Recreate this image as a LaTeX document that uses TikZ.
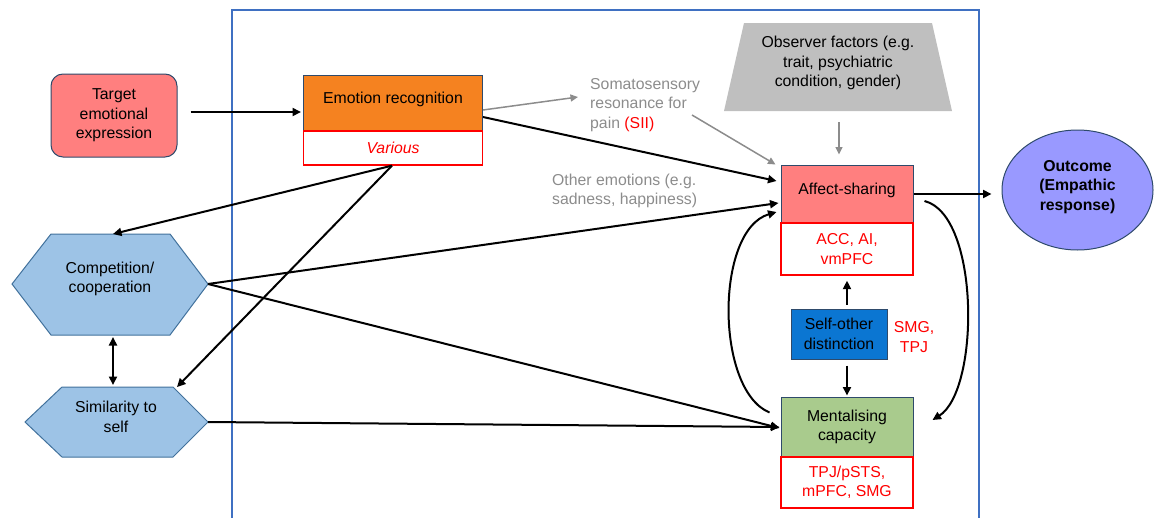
\documentclass[tikz,border=0pt]{standalone}
\usepackage{fontspec}
\setmainfont{Liberation Sans}
\usetikzlibrary{arrows.meta,calc,shapes.geometric}
\definecolor{frameblue}{HTML}{3F70C2}
\definecolor{outl}{HTML}{2E4A6B}
\definecolor{salmon}{HTML}{FF7F7F}
\definecolor{orng}{HTML}{F58220}
\definecolor{gtext}{HTML}{8C8C8C}
\definecolor{gshape}{HTML}{BFBFBF}
\definecolor{purp}{HTML}{9999FF}
\definecolor{selfb}{HTML}{0B76D2}
\definecolor{mgreen}{HTML}{A9CB8D}
\definecolor{hexfill}{HTML}{9DC3E6}
\definecolor{hexline}{HTML}{41719C}
\definecolor{myred}{HTML}{FF0000}
\tikzset{
  every node/.style={font=\fontsize{15.8}{19.5}\selectfont, inner sep=0pt, align=center},
  box/.style={draw=outl, line width=1pt},
  redbox/.style={draw=myred, fill=white, line width=1.3pt, text=myred},
  arr/.style={line width=2pt, -{Triangle[length=8.5pt,width=8pt]}},
  darr/.style={line width=2pt, {Triangle[length=8.5pt,width=8pt]}-{Triangle[length=8.5pt,width=8pt]}},
  garr/.style={line width=1.5pt, draw=gtext, -{Triangle[length=7.5pt,width=7pt]}},
  hex/.style={fill=hexfill, draw=hexline, line width=1pt, line join=miter},
}
\begin{document}
\begin{tikzpicture}[x=1pt,y=-1pt]
\useasboundingbox (0,0) rectangle (1157,517);
% frame
\draw[frameblue, line width=2pt] (232,520) -- (232,10) -- (979,10) -- (979,520);

% target
\node[box, fill=salmon, rounded corners=12pt, minimum width=126, minimum height=83] (tgt) at (114,115.5) {Target\\emotional\\expression};

% emotion recognition
\node[box, fill=orng, minimum width=179, minimum height=56, text depth=11pt] (emo) at (393,103) {Emotion recognition};
\node[redbox, minimum width=179, minimum height=34] (var) at (393,148) {\itshape Various};

% observer factors
\path[fill=gshape] (744,23) -- (932,23) -- (952,111) -- (724,111) -- cycle;
\coordinate (obsB) at (838,111);
\node (obs) at (838,63) {Observer factors (e.g.\\trait, psychiatric\\condition, gender)};

% gray labels
\node[anchor=west, align=left, text=gtext] (soma) at (590,105) {Somatosensory\\resonance for\\pain \textcolor{myred}{(SII)}};
\node[anchor=west, align=left, text=gtext] (oth) at (552,191) {Other emotions (e.g.\\sadness, happiness)};

% affect sharing
\node[box, fill=salmon, minimum width=132, minimum height=58, text depth=11pt] (aff) at (847,194) {Affect-sharing};
\node[redbox, minimum width=132, minimum height=52] (acc) at (847,249) {ACC, AI,\\vmPFC};

% self-other
\node[box, fill=selfb, minimum width=96, minimum height=50] (self) at (839,334) {Self-other\\distinction};
\node[text=myred] (smg) at (914,337) {SMG,\\TPJ};

% mentalising
\node[box, fill=mgreen, minimum width=132, minimum height=60] (ment) at (847,427) {Mentalising\\capacity};
\node[redbox, minimum width=132, minimum height=51] (tpj) at (847,482.5) {TPJ/pSTS,\\mPFC, SMG};

% outcome
\node[draw=outl, line width=1pt, fill=purp, ellipse, minimum width=151, minimum height=120, text depth=9.5pt, font=\fontsize{15.8}{19.5}\selectfont\bfseries] (out) at (1077.5,190) {Outcome\\(Empathic\\response)};

% hexagons
\path[hex] (12,284) -- (51,234) -- (170,234) -- (208,284) -- (170,335) -- (51,335) -- cycle;
\coordinate (compT) at (113,234);
\coordinate (compB) at (113,335);
\coordinate (compR) at (208,284);
\node (comp) at (110,279) {Competition/\\cooperation};

\path[hex] (25,422) -- (62,387) -- (173,387) -- (208,422) -- (173,457) -- (62,457) -- cycle;
\coordinate (simT) at (113,387);
\coordinate (simTR) at (177,387);
\coordinate (simR) at (208,422);
\node (sim) at (116,417) {Similarity to\\self};

% connectors
\draw[arr] ($(tgt.east)+(13,-3.5)$) -- ($(emo.west)+(-2,9)$);
\draw[garr] ($(emo.east)+(0,7)$) -- ($(soma.west)+(-12,-8)$);
\draw[garr] ($(soma.west)+(102,10)$) -- ($(aff.north west)+(-5,0)$);
\draw[garr] ($(obsB)+(1,11)$) -- ($(aff.north)+(-8,-10)$);
\draw[arr] ($(emo.east)+(0,14)$) -- ($(aff.west)+(-4,-13)$);
\draw[arr] (aff.east) -- ($(aff.east -| out.west)+(-10,0)$);
\draw[arr] ($(var.south)+(-1,0)$) -- (compT);
\draw[arr] ($(var.south)+(-1,0)$) -- (simTR);
\draw[arr] (compR) -- ($(aff.west)+(-2,9)$);
\draw[arr] (compR) -- ($(ment.west)+(-1,1)$);
\draw[arr] (simR) -- ($(ment.west)+(-1,0)$);
\draw[darr] ($(compB)+(0,2)$) -- ($(simT)+(0,-2)$);
\draw[arr] ($(self.north -| acc.south)+(0,-4)$) -- ($(acc.south)+(0,5)$);
\draw[arr] ($(self.south -| ment.north)+(0,6)$) -- ($(ment.north)+(0,-1)$);
\draw[arr] ($(ment.north west)+(-11,16)$) .. controls (715,390) and (715,230) .. ($(aff.west)+(-4,18)$);
\draw[arr] ($(aff.east)+(11,7)$) .. controls (980,215) and (980,390) .. ($(ment.east)+(19,-7)$);
\end{tikzpicture}
\end{document}
